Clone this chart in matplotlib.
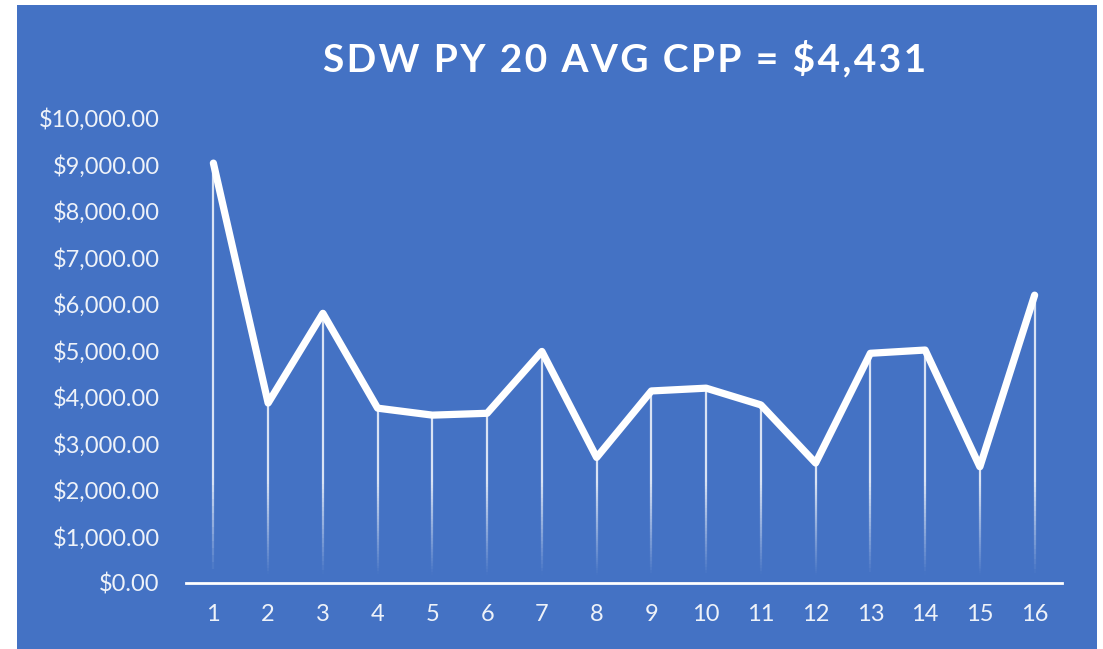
import numpy as np
import matplotlib
matplotlib.use("Agg")
from matplotlib import pyplot as plt
from matplotlib.patches import Rectangle
from matplotlib.collections import LineCollection
from matplotlib.ticker import FuncFormatter

periods = list(range(1, 17))
cpp = [9030, 3870, 5800, 3760, 3610, 3650, 4980, 2700,
       4130, 4190, 3830, 2580, 4940, 5010, 2500, 6190]
title = "SDW PY 20 AVG CPP = $4,431"

blue = "#4472C4"
txt = "#eef2f9"

plt.rcParams['font.family'] = ['Lato', 'DejaVu Sans']

fig = plt.figure(figsize=(11.03, 6.49), dpi=100)
fig.patch.set_facecolor("white")
# blue chart area, leaves a thin white margin left/top/right
fig.patches.append(Rectangle((17 / 1103, 0), (1097 - 17) / 1103, 1 - 5 / 649,
                             transform=fig.transFigure, facecolor=blue,
                             edgecolor="none", zorder=-5))

ax = fig.add_axes([186 / 1103, 1 - 583 / 649, (1062 - 186) / 1103, (583 - 118) / 649])
ax.set_facecolor("none")
ax.set_zorder(2)

# drop lines that fade out toward the axis
n_seg = 60
for x, y in zip(periods, cpp):
    ys = np.linspace(0, y, n_seg + 1)
    segs = [[(x, ys[i]), (x, ys[i + 1])] for i in range(n_seg)]
    alpha = np.clip((ys[:-1] - 150) / 2000.0, 0, 1) * 0.8
    cols = [(1, 1, 1, a) for a in alpha]
    ax.add_collection(LineCollection(segs, colors=cols, linewidths=1.6, zorder=2))

ax.plot(periods, cpp, color="white", lw=5.2, solid_joinstyle="round",
        solid_capstyle="round", zorder=3)

ax.set_xlim(0.5, 16.5)
ax.set_ylim(0, 10000)
ax.set_xticks(periods)
ax.set_yticks(np.arange(0, 10001, 1000))
ax.yaxis.set_major_formatter(FuncFormatter(lambda v, p: f"${v:,.2f}"))

for s in ["top", "right", "left"]:
    ax.spines[s].set_visible(False)
ax.spines["bottom"].set_color("white")
ax.spines["bottom"].set_linewidth(2)
ax.tick_params(length=0, colors=txt, labelsize=17)
ax.tick_params(axis="x", pad=15)
ax.tick_params(axis="y", pad=19)

# Excel style title with wide letter spacing
spaced = "\u200a".join(title)
fig.text(0.566, 0.909, spaced, ha="center", va="center", color="white",
         fontsize=28, fontweight="bold")

fig.savefig("out.png", dpi=100)
